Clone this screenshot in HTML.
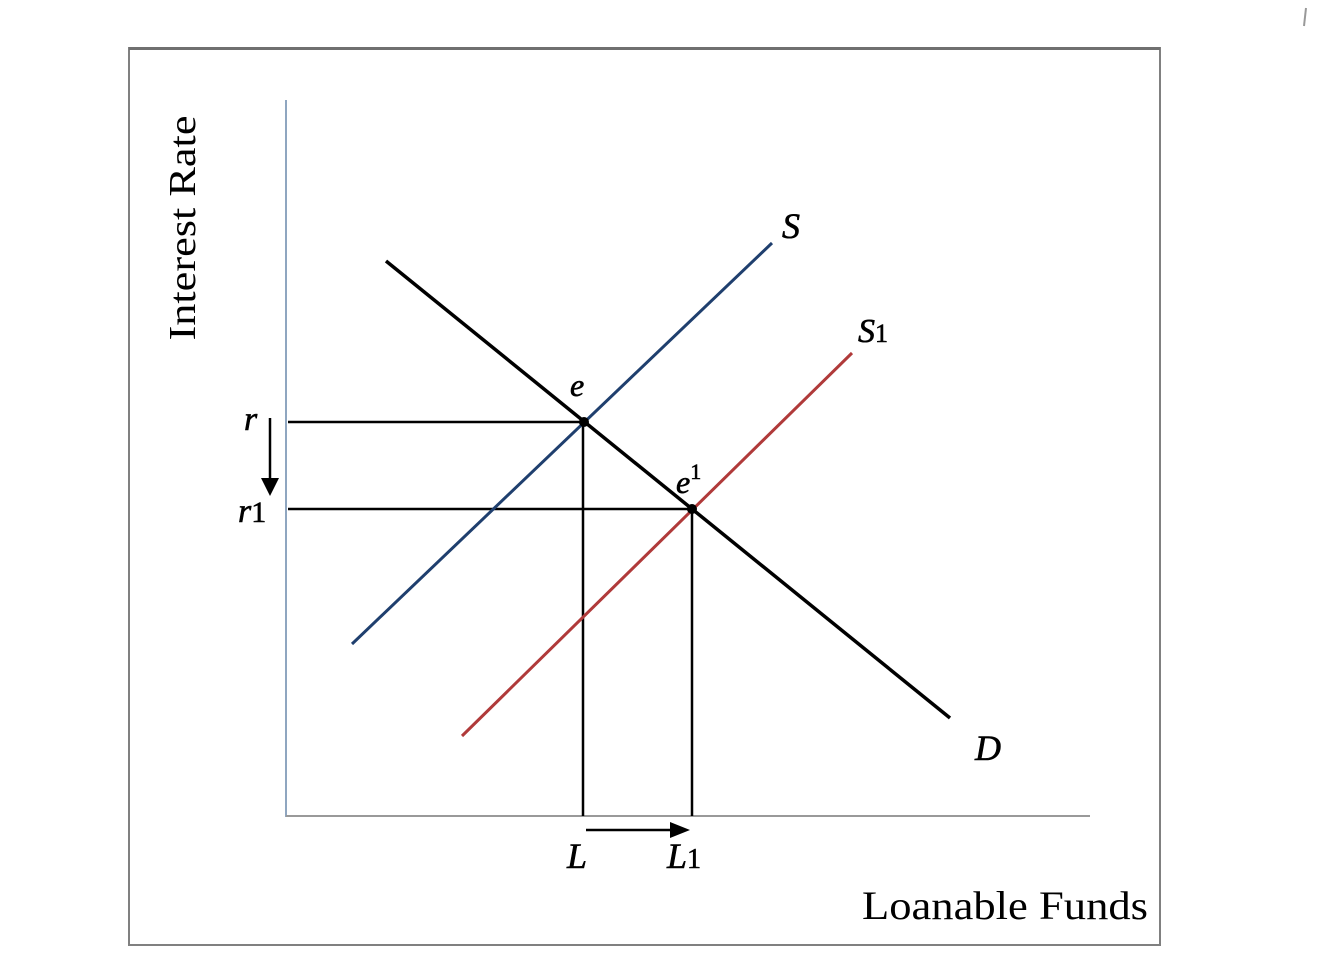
<!DOCTYPE html>
<html><head><style>
html,body{margin:0;padding:0;background:#fff;}
svg{display:block;}
text{font-family:"Liberation Serif",serif;}
</style></head><body>
<svg width="1317" height="960" viewBox="0 0 1317 960" xmlns="http://www.w3.org/2000/svg">
<rect x="0" y="0" width="1317" height="960" fill="#fff"/>
<rect x="129" y="48" width="1031" height="897" fill="none" stroke="#808080" stroke-width="2"/>
<line x1="129" y1="48.5" x2="1160" y2="48.5" stroke="#707070" stroke-width="3"/>
<line x1="1306" y1="8" x2="1304" y2="26" stroke="#999" stroke-width="2"/>
<line x1="286" y1="100" x2="286" y2="817" stroke="#8fa6c0" stroke-width="2"/>
<line x1="286" y1="816" x2="1090" y2="816" stroke="#999" stroke-width="2"/>
<line x1="288" y1="422" x2="584" y2="422" stroke="#000" stroke-width="2.5"/>
<line x1="288" y1="509" x2="692" y2="509" stroke="#000" stroke-width="2.5"/>
<line x1="583" y1="422" x2="583" y2="816" stroke="#000" stroke-width="2.5"/>
<line x1="692" y1="509" x2="692" y2="816" stroke="#000" stroke-width="2.5"/>
<line x1="352" y1="644" x2="772" y2="243" stroke="#1f3f6e" stroke-width="3"/>
<line x1="462" y1="736" x2="852" y2="353" stroke="#b03a3a" stroke-width="3"/>
<line x1="386" y1="261" x2="950" y2="718" stroke="#000" stroke-width="3.5"/>
<circle cx="584" cy="422" r="5" fill="#000"/>
<circle cx="692" cy="509" r="5" fill="#000"/>
<line x1="270" y1="418" x2="270" y2="480" stroke="#000" stroke-width="2.5"/>
<polygon points="261,478 279,478 270,496" fill="#000"/>
<line x1="586" y1="830" x2="672" y2="830" stroke="#000" stroke-width="2.5"/>
<polygon points="670,822 670,838 690,830" fill="#000"/>
<g stroke="#000" stroke-width="0.6">
<text x="244" y="430" font-size="34" font-style="italic">r</text>
<text x="238" y="522" font-size="34" font-style="italic">r<tspan font-style="normal" font-size="30">1</tspan></text>
<text x="570" y="396" font-size="32" font-style="italic">e</text>
<text x="676" y="493" font-size="32" font-style="italic">e<tspan font-style="normal" font-size="22" dy="-14">1</tspan></text>
<text x="782" y="238" font-size="36" font-style="italic">S</text>
<text x="858" y="342" font-size="34" font-style="italic">S<tspan font-style="normal" font-size="26">1</tspan></text>
<text x="975" y="760" font-size="36" font-style="italic">D</text>
<text x="567" y="868" font-size="36" font-style="italic">L</text>
<text x="667" y="868" font-size="36" font-style="italic">L<tspan font-style="normal" font-size="28">1</tspan></text>
</g>
<text x="862" y="919" font-size="40" textLength="286" lengthAdjust="spacingAndGlyphs">Loanable Funds</text>
<text transform="translate(195,228) rotate(-90)" text-anchor="middle" font-size="38" textLength="225" lengthAdjust="spacingAndGlyphs">Interest Rate</text>
</svg>
</body></html>
